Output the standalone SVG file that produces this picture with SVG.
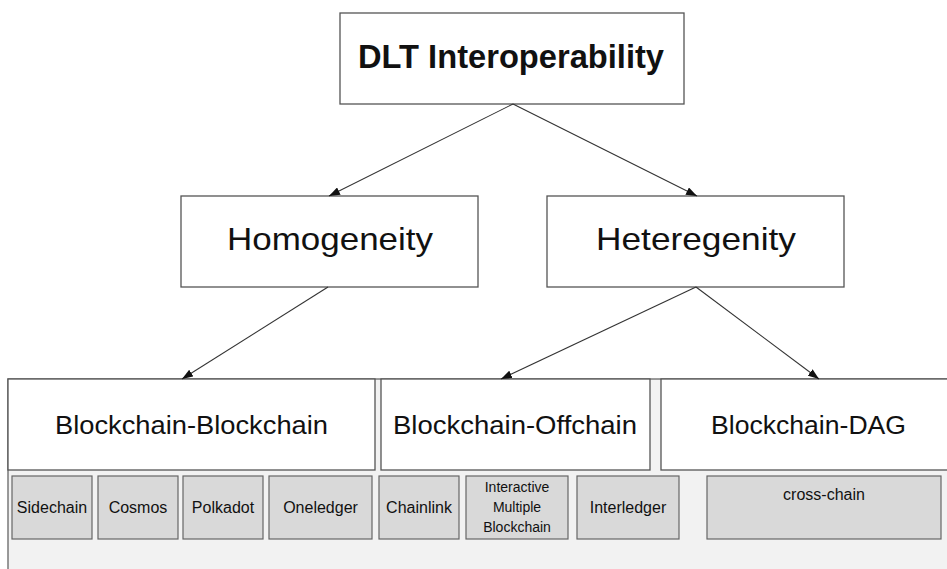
<svg xmlns="http://www.w3.org/2000/svg" width="947" height="569" viewBox="0 0 947 569">
<defs>
<marker id="ah" markerWidth="11" markerHeight="8" refX="11" refY="4" orient="auto" markerUnits="userSpaceOnUse">
<path d="M0,0 L11,4 L0,8 z" fill="#111"/>
</marker>
<style>
.box{fill:#fff;stroke:#555;stroke-width:1.3}
.item{fill:#d9d9d9;stroke:#666;stroke-width:1.2}
.cont{fill:#f2f2f2;stroke:#666;stroke-width:1.3}
.t{font-family:"Liberation Sans",Arial,sans-serif;fill:#111;text-anchor:middle}
.big{font-size:32px}
.hd{font-size:25px}
.sm{font-size:16px}
.xs{font-size:14px}
.edge{stroke:#333;stroke-width:1.1;fill:none;marker-end:url(#ah)}
</style>
</defs>
<rect width="947" height="569" fill="#fff"/>
<g id="root">
<rect class="box" x="340" y="13" width="344" height="91"/>
<text class="t" x="511" y="68" font-size="34" font-weight="bold" textLength="306" lengthAdjust="spacingAndGlyphs">DLT Interoperability</text>
</g>
<g id="homogeneity">
<rect class="box" x="181" y="196" width="297" height="91"/>
<text class="t big" x="330" y="250" textLength="206" lengthAdjust="spacingAndGlyphs">Homogeneity</text>
</g>
<g id="heteregenity">
<rect class="box" x="547" y="196" width="297" height="91"/>
<text class="t big" x="696" y="250" textLength="200" lengthAdjust="spacingAndGlyphs">Heteregenity</text>
</g>
<g id="container">
<rect class="cont" x="8" y="379" width="960" height="220"/>
</g>
<g id="bb">
<rect class="box" x="8" y="379" width="367" height="91"/>
<text class="t hd" x="191.5" y="434" textLength="273" lengthAdjust="spacingAndGlyphs">Blockchain-Blockchain</text>
</g>
<g id="bo">
<rect class="box" x="381" y="379" width="269" height="91"/>
<text class="t hd" x="515" y="434" textLength="244" lengthAdjust="spacingAndGlyphs">Blockchain-Offchain</text>
</g>
<g id="bdag">
<rect class="box" x="661" y="379" width="300" height="91"/>
<text class="t hd" x="808.5" y="434" textLength="195" lengthAdjust="spacingAndGlyphs">Blockchain-DAG</text>
</g>
<g id="sidechain">
<rect class="item" x="12" y="476" width="80" height="63"/>
<text class="t sm" x="52" y="513">Sidechain</text>
</g>
<g id="cosmos">
<rect class="item" x="98" y="476" width="80" height="63"/>
<text class="t sm" x="138" y="513">Cosmos</text>
</g>
<g id="polkadot">
<rect class="item" x="183" y="476" width="80" height="63"/>
<text class="t sm" x="223" y="513">Polkadot</text>
</g>
<g id="oneledger">
<rect class="item" x="269" y="476" width="103" height="63"/>
<text class="t sm" x="320.5" y="513">Oneledger</text>
</g>
<g id="chainlink">
<rect class="item" x="379" y="476" width="80" height="63"/>
<text class="t sm" x="419" y="513">Chainlink</text>
</g>
<g id="interactive">
<rect class="item" x="466" y="476" width="102" height="63"/>
<text class="t xs" x="517" y="492">Interactive</text>
<text class="t xs" x="517" y="512">Multiple</text>
<text class="t xs" x="517" y="532">Blockchain</text>
</g>
<g id="interledger">
<rect class="item" x="577" y="476" width="102" height="63"/>
<text class="t sm" x="628" y="513">Interledger</text>
</g>
<g id="crosschain">
<rect class="item" x="707" y="476" width="234" height="63"/>
<text class="t sm" x="824" y="500">cross-chain</text>
</g>
<g id="connectors">
<line class="edge" x1="513" y1="104" x2="329" y2="196"/>
<line class="edge" x1="513" y1="104" x2="697" y2="196"/>
<line class="edge" x1="328" y1="287" x2="182" y2="379"/>
<line class="edge" x1="696" y1="287" x2="501" y2="379"/>
<line class="edge" x1="696" y1="287" x2="819" y2="379"/>
</g>
</svg>
